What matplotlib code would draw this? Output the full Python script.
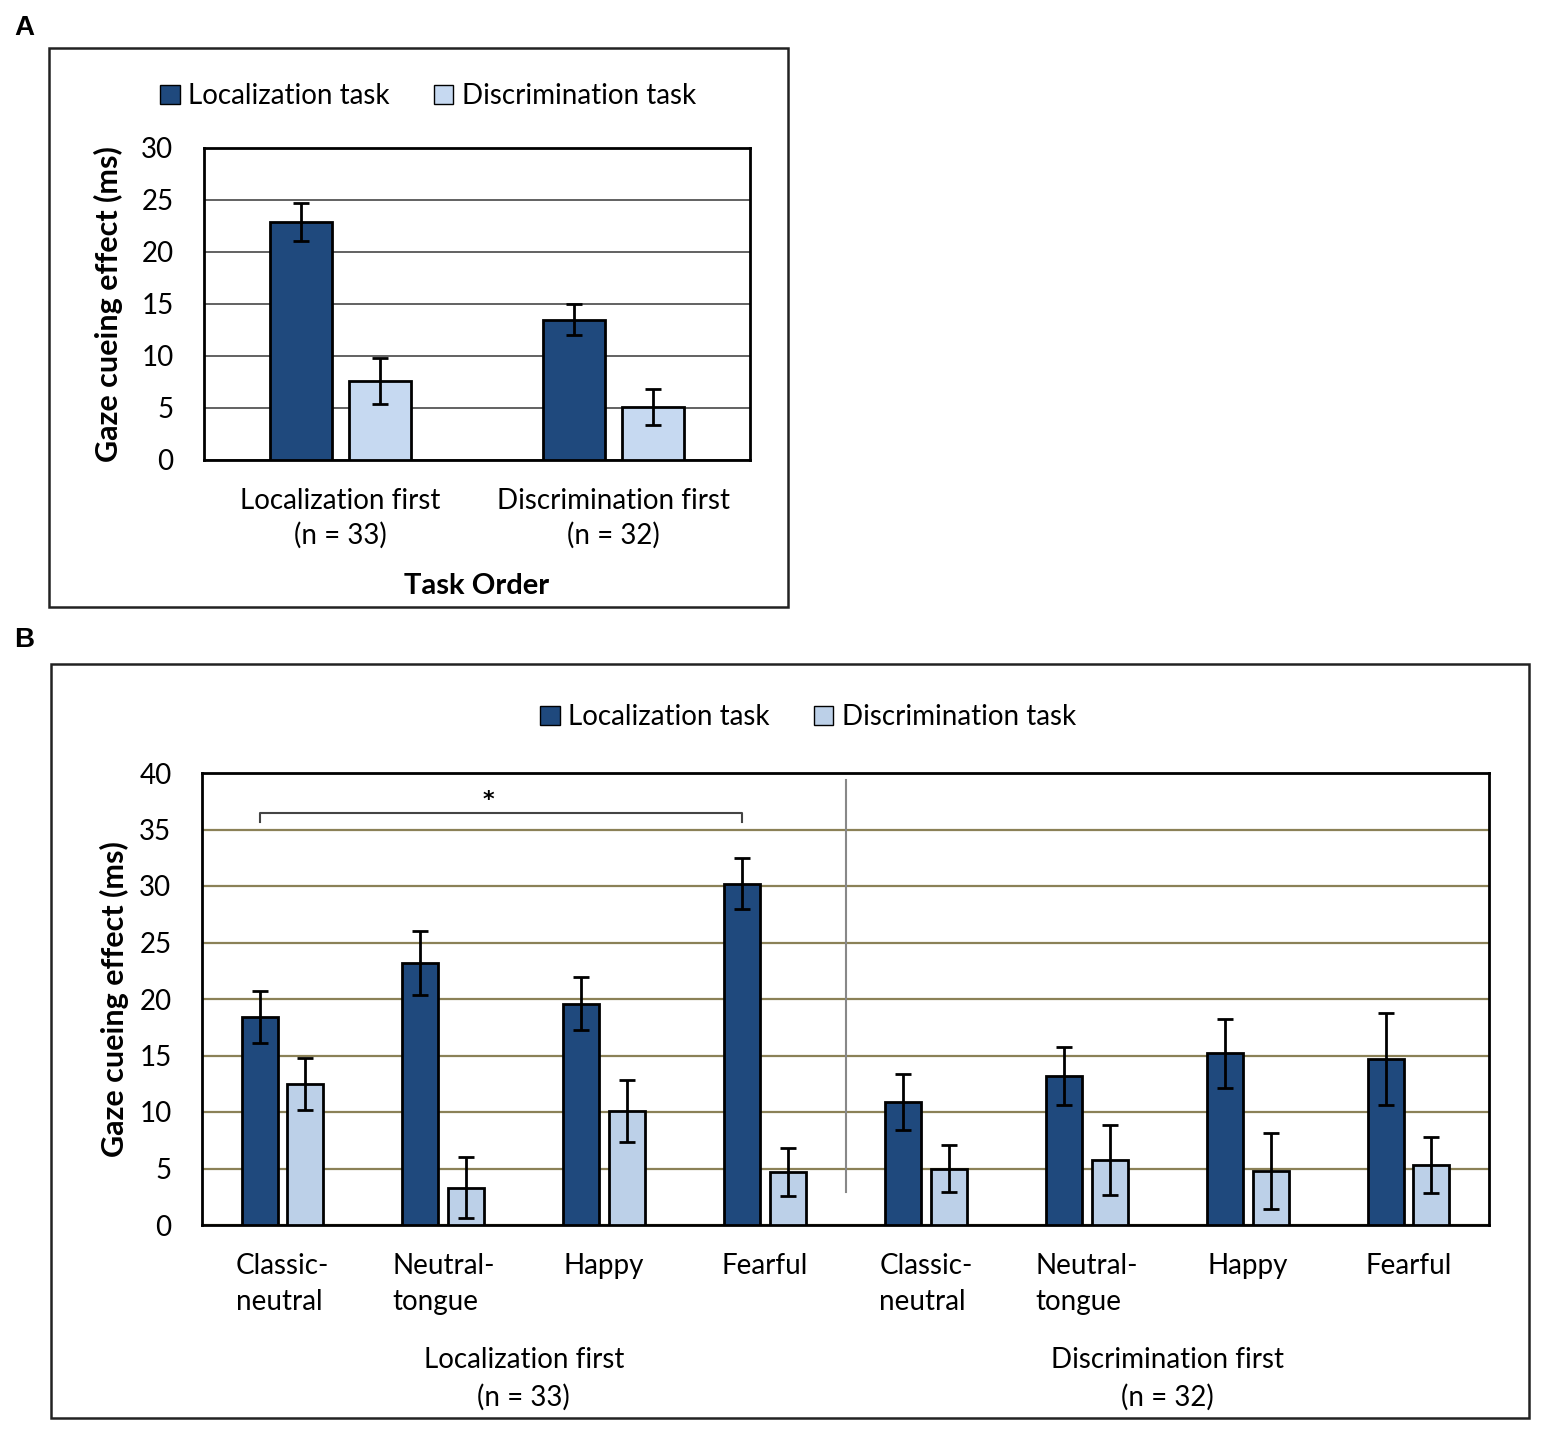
import numpy as np
import matplotlib
matplotlib.use("Agg")
import matplotlib.pyplot as plt
from matplotlib.patches import Rectangle, Patch

plt.rcParams["font.family"] = ["Lato", "DejaVu Sans"]

# panel A
order_labels = ["Localization first\n(n = 33)", "Discrimination first\n(n = 32)"]
a_loc = [22.9, 13.5]
a_loc_err = [1.8, 1.5]
a_disc = [7.6, 5.1]
a_disc_err = [2.2, 1.7]

# panel B
face_labels = ["Classic-\nneutral", "Neutral-\ntongue", "Happy", "Fearful",
               "Classic-\nneutral", "Neutral-\ntongue", "Happy", "Fearful"]
group_labels = ["Localization first\n(n = 33)", "Discrimination first\n(n = 32)"]
b_loc = [18.4, 23.2, 19.6, 30.2, 10.9, 13.2, 15.2, 14.7]
b_loc_err = [2.3, 2.85, 2.35, 2.25, 2.45, 2.55, 3.05, 4.05]
b_disc = [12.5, 3.3, 10.1, 4.7, 5.0, 5.75, 4.8, 5.3]
b_disc_err = [2.3, 2.7, 2.75, 2.1, 2.1, 3.1, 3.35, 2.45]

DARK = "#1F497D"
LIGHT_A = "#C6D9F1"
LIGHT_B = "#BCD0E8"
W, H = 1562, 1450
FS = 20


def px_axes(fig, x0, y0, x1, y1):
    return fig.add_axes([x0 / W, 1 - y1 / H, (x1 - x0) / W, (y1 - y0) / H])


def frame(fig, x0, y0, x1, y1):
    fig.patches.append(Rectangle((x0 / W, 1 - y1 / H), (x1 - x0) / W, (y1 - y0) / H,
                                 transform=fig.transFigure, fill=False,
                                 edgecolor="#222222", linewidth=1.8))


def draw_bars(ax, loc, loc_err, disc, disc_err, light, width):
    x = np.arange(len(loc))
    off = width / 2 + 0.03
    ekw = dict(elinewidth=2, capthick=2, ecolor="black")
    ax.bar(x - off, loc, width, color=DARK, edgecolor="black", linewidth=2,
           yerr=loc_err, capsize=6, error_kw=ekw, zorder=3)
    ax.bar(x + off, disc, width, color=light, edgecolor="black", linewidth=2,
           yerr=disc_err, capsize=6, error_kw=ekw, zorder=3)
    ax.set_xlim(-0.5, len(loc) - 0.5)
    for s in ax.spines.values():
        s.set_linewidth(2)
        s.set_color("black")
    ax.tick_params(axis="y", length=0, pad=22, labelsize=FS)
    ax.tick_params(axis="x", length=0, pad=20, labelsize=FS)
    return off


fig = plt.figure(figsize=(W / 100, H / 100), dpi=100)

# ---- A ----
frame(fig, 49, 48, 788, 607)
fig.text(14 / W, 1 - 28 / H, "A", fontsize=20, fontweight="bold", va="center",
         family=["Liberation Sans", "DejaVu Sans"])
axA = px_axes(fig, 204, 148, 750, 460)
draw_bars(axA, a_loc, a_loc_err, a_disc, a_disc_err, LIGHT_A, 0.227)
axA.set_ylim(0, 30)
axA.set_yticks(range(0, 31, 5))
axA.yaxis.grid(True, color="#555555", linewidth=1.3, zorder=0)
axA.set_axisbelow(True)
axA.set_xticks(range(2))
axA.set_xticklabels(order_labels, linespacing=1.35)
axA.set_ylabel("Gaze cueing effect (ms)", fontsize=22, fontweight="bold", labelpad=13)
axA.set_xlabel("Task Order", fontsize=21, fontweight="bold", labelpad=18)
handlesA = [Patch(facecolor=DARK, edgecolor="black", label="Localization task"),
            Patch(facecolor=LIGHT_A, edgecolor="black", label="Discrimination task")]
fig.legend(handles=handlesA, loc="center", bbox_to_anchor=(428 / W, 1 - 96 / H),
           ncol=2, frameon=False, fontsize=FS, handlelength=0.7, handleheight=0.7,
           handletextpad=0.3, columnspacing=1.6)

# ---- B ----
frame(fig, 51, 664, 1529, 1418)
fig.text(14 / W, 1 - 640 / H, "B", fontsize=20, fontweight="bold", va="center",
         family=["Liberation Sans", "DejaVu Sans"])
axB = px_axes(fig, 202, 773, 1489, 1225)
off = draw_bars(axB, b_loc, b_loc_err, b_disc, b_disc_err, LIGHT_B, 0.224)
axB.set_ylim(0, 40)
axB.set_yticks(range(0, 41, 5))
axB.yaxis.grid(True, color="#8B8157", linewidth=1.6, zorder=0)
axB.set_axisbelow(True)
axB.set_xticks(range(8))
axB.set_xticklabels(face_labels, linespacing=1.5, multialignment="left")
axB.set_ylabel("Gaze cueing effect (ms)", fontsize=22, fontweight="bold", labelpad=7)
# separator between task orders
axB.plot([3.5, 3.5], [2.9, 39.4], color="#888888", linewidth=1.5, zorder=2)
# significance bracket
bx0, bx1 = -off, 3 - off
axB.plot([bx0, bx0, bx1, bx1], [35.7, 36.5, 36.5, 35.7], color="#444444",
         linewidth=1.5, zorder=4)
axB.text((bx0 + bx1) / 2 - 0.08, 37.6, "*", ha="center", va="center", fontsize=16,
         fontweight="bold", family=["DejaVu Sans"])
for i, lab in enumerate(group_labels):
    axB.text(1.5 + 4 * i, -0.27, lab, transform=axB.get_xaxis_transform(),
             ha="center", va="top", fontsize=FS, linespacing=1.5)
handlesB = [Patch(facecolor=DARK, edgecolor="black", label="Localization task"),
            Patch(facecolor=LIGHT_B, edgecolor="black", label="Discrimination task")]
fig.legend(handles=handlesB, loc="center", bbox_to_anchor=(808 / W, 1 - 717 / H),
           ncol=2, frameon=False, fontsize=FS, handlelength=0.7, handleheight=0.7,
           handletextpad=0.3, columnspacing=1.6)

fig.savefig("out.png", dpi=100, facecolor="white")
